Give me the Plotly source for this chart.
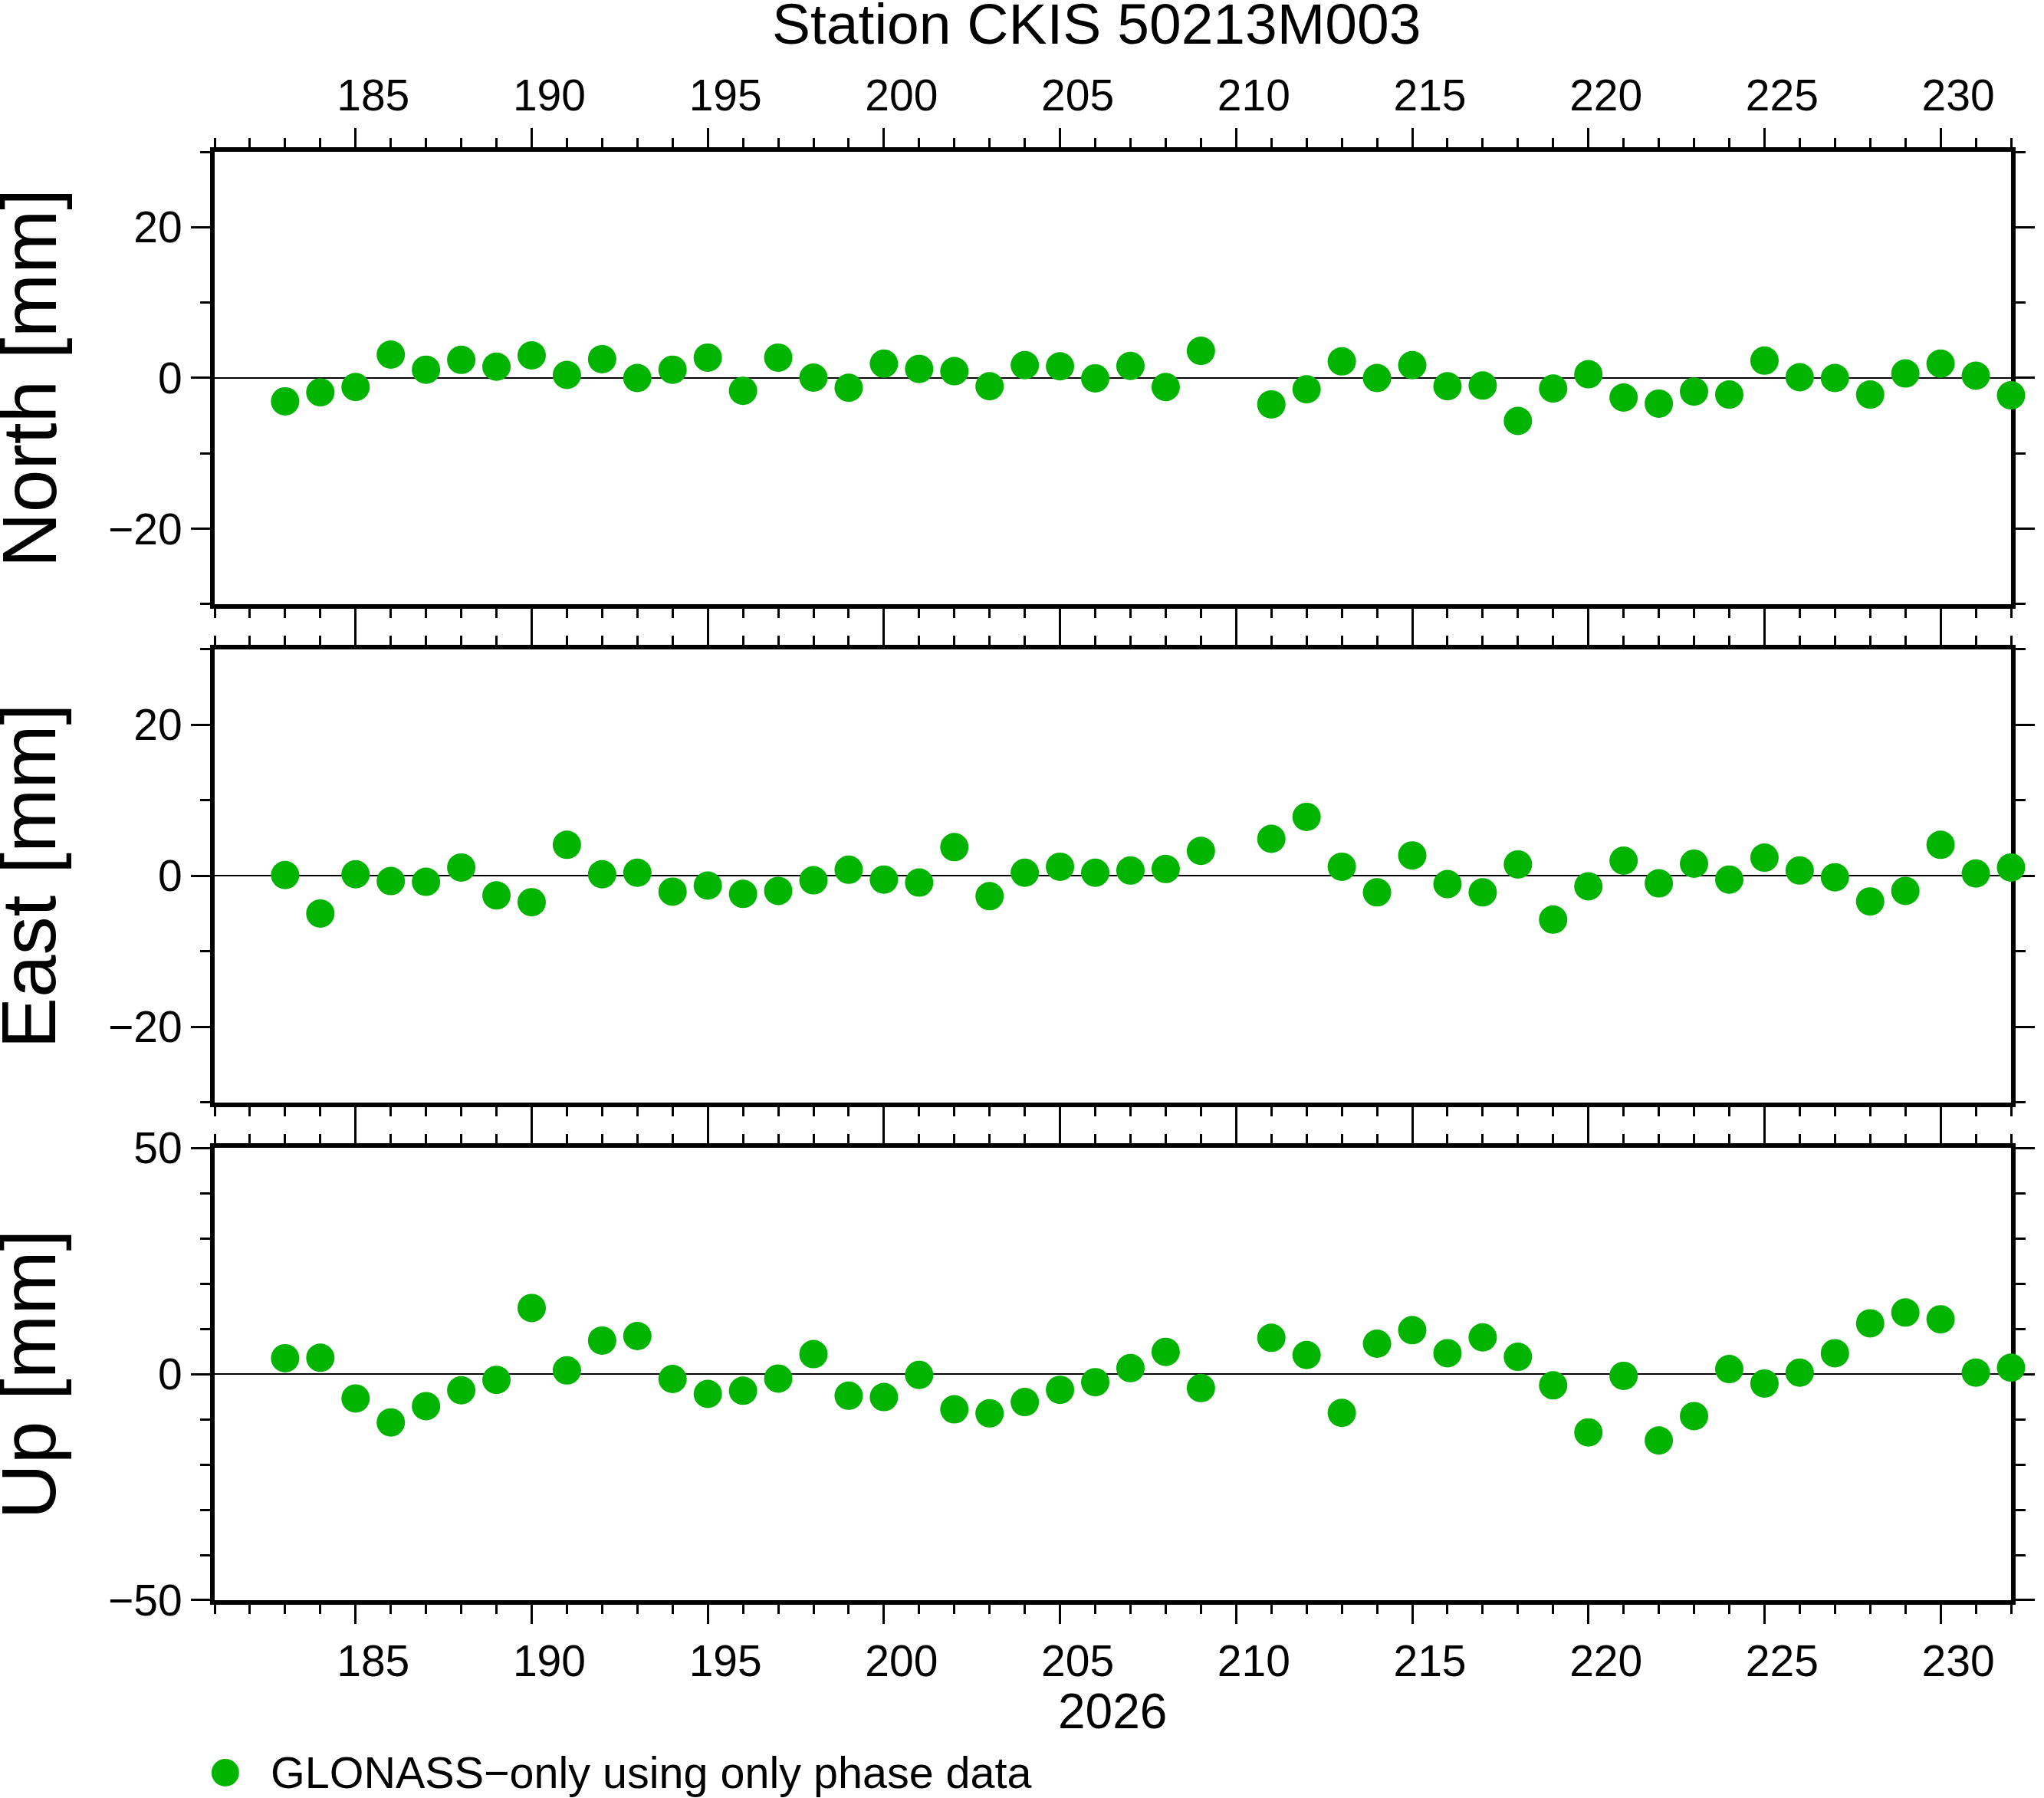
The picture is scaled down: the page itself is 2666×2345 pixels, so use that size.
import plotly.graph_objects as go

# day of year 2026
days = [183, 184, 185, 186, 187, 188, 189, 190, 191, 192, 193, 194, 195, 196, 197, 198, 199, 200,
        201, 202, 203, 204, 205, 206, 207, 208, 209, 211, 212, 213, 214, 215, 216, 217, 218, 219,
        220, 221, 222, 223, 224, 225, 226, 227, 228, 229, 230, 231, 232]

north = [-3.1, -1.9, -1.2, 3.1, 1.1, 2.4, 1.5, 3.0, 0.4, 2.5, 0.0, 1.1, 2.7, -1.7, 2.7, 0.05, -1.3, 1.9,
         1.2, 0.9, -1.1, 1.7, 1.55, -0.05, 1.6, -1.2, 3.6, -3.5, -1.5, 2.2, 0.0, 1.7, -1.1, -1.0, -5.7, -1.4,
         0.5, -2.6, -3.4, -1.8, -2.2, 2.3, 0.1, 0.0, -2.2, 0.6, 1.9, 0.3, -2.3]

east = [0.1, -5.0, 0.2, -0.7, -0.8, 1.1, -2.6, -3.5, 4.1, 0.2, 0.4, -2.1, -1.3, -2.4, -2.0, -0.6, 0.8, -0.5,
        -0.9, 3.8, -2.7, 0.4, 1.2, 0.4, 0.7, 0.9, 3.3, 4.9, 7.8, 1.2, -2.2, 2.7, -1.1, -2.2, 1.5, -5.8,
        -1.4, 2.0, -1.0, 1.6, -0.5, 2.4, 0.7, -0.2, -3.4, -2.0, 4.1, 0.3, 1.1]

up = [3.5, 3.6, -5.4, -10.7, -7.1, -3.6, -1.3, 14.6, 0.8, 7.4, 8.4, -1.1, -4.4, -3.7, -1.0, 4.4, -4.8, -5.1,
      -0.2, -7.8, -8.7, -6.2, -3.5, -1.8, 1.3, 4.9, -3.1, 8.0, 4.2, -8.6, 6.7, 9.7, 4.6, 8.1, 3.8, -2.5,
      -12.9, -0.4, -14.7, -9.3, 1.1, -2.1, 0.3, 4.6, 11.2, 13.6, 12.1, 0.3, 1.4]

components = ["North [mm]", "East [mm]", "Up [mm]"]
series = [north, east, up]
y_ranges = [[-30, 30], [-30, 30], [-50, 50]]
y_dticks = [20, 20, 50]
domains = [[0.6877, 1.0], [0.3438, 0.6565], [0.0, 0.3123]]

station_title = "Station CKIS 50213M003"
year_label = "2026"
legend_label = "GLONASS\u2212only using only phase data"

GREEN = "rgb(0,180,0)"
FONT = "Liberation Sans, Arial, Helvetica, sans-serif"

fig = go.Figure()

for i, (vals, name) in enumerate(zip(series, components)):
    ax = "" if i == 0 else str(i + 1)
    fig.add_trace(go.Scatter(
        x=days, y=vals, mode="markers", name=legend_label, showlegend=False,
        marker=dict(color=GREEN, size=37, line=dict(width=0)),
        cliponaxis=False, xaxis="x" + ax, yaxis="y" + ax,
    ))
    xax = dict(
        domain=[0, 1], range=[181, 232], anchor="y" + ax,
        dtick=5, tick0=0, ticks="outside", ticklen=25, tickwidth=3, tickcolor="black",
        minor=dict(ticks="outside", ticklen=12, tickwidth=3, dtick=1, tickcolor="black"),
        showline=True, linewidth=6, linecolor="black", mirror="ticks",
        showgrid=False, zeroline=False, layer="below traces",
        tickfont=dict(family=FONT, size=57, color="black"),
        ticklabelshift=23,  # day labels sit in the middle of the day
        showticklabels=(i != 1),
        side="top" if i == 0 else "bottom",
    )
    if i > 0:
        xax["matches"] = "x"
    yax = dict(
        domain=domains[i], range=y_ranges[i], anchor="x" + ax,
        dtick=y_dticks[i], ticks="outside", ticklen=25, tickwidth=3, tickcolor="black",
        minor=dict(ticks="outside", ticklen=13, tickwidth=3, dtick=10, tickcolor="black"),
        showline=True, linewidth=6, linecolor="black", mirror="ticks",
        showgrid=False, zeroline=True, zerolinecolor="black", zerolinewidth=1.5,
        layer="below traces",
        tickfont=dict(family=FONT, size=57, color="black"),
    )
    fig.layout["xaxis" + ax] = xax
    fig.layout["yaxis" + ax] = yax
    mid = (domains[i][0] + domains[i][1]) / 2
    fig.add_annotation(text=name, xref="paper", yref="paper", x=-0.1035, y=mid,
                       textangle=-90, showarrow=False, xanchor="center", yanchor="middle",
                       font=dict(family=FONT, size=100, color="black"))

fig.add_annotation(text=station_title, xref="paper", yref="paper", x=0.4909, y=1.0884,
                   showarrow=False, xanchor="center", yanchor="middle",
                   font=dict(family=FONT, size=75, color="black"))
fig.add_annotation(text=year_label, xref="paper", yref="paper", x=0.4998, y=-0.0770,
                   showarrow=False, xanchor="center", yanchor="middle",
                   font=dict(family=FONT, size=64, color="black"))

# legend entry
fig.add_shape(type="circle", xref="paper", yref="paper", xsizemode="pixel", ysizemode="pixel",
              xanchor=0.0059, yanchor=-0.1191, x0=-18, x1=18, y0=-18, y1=18,
              fillcolor=GREEN, line=dict(width=0))
fig.add_annotation(text=legend_label, xref="paper", yref="paper", x=0.0301, y=-0.1191,
                   showarrow=False, xanchor="left", yanchor="middle",
                   font=dict(family=FONT, size=57.5, color="black"))

fig.update_layout(
    width=2666, height=2345,
    margin=dict(l=280, r=17, t=198, b=258),
    paper_bgcolor="white", plot_bgcolor="white",
    showlegend=False,
)

# drop the default body margin so the page is exactly the figure size
fig.write_html("out.html", config={"displayModeBar": False},
               post_script="document.body.style.margin='0';document.body.style.overflow='hidden';")
